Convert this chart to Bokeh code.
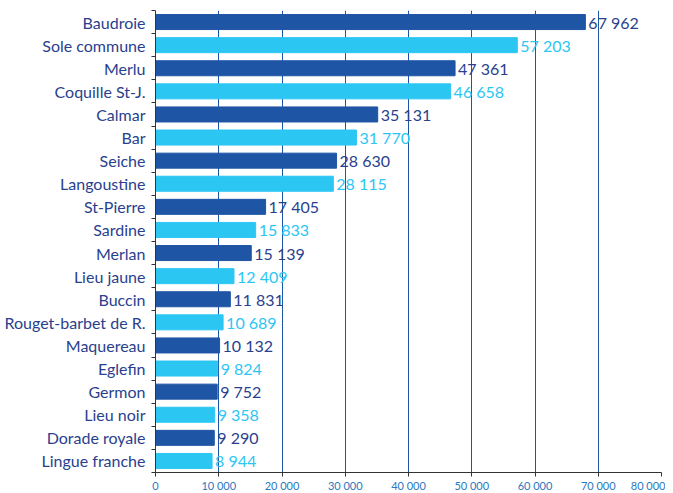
from bokeh.plotting import figure
from bokeh.models import Range1d, FixedTicker, ColumnDataSource
from bokeh.embed import file_html
from bokeh.resources import INLINE
from bokeh.core.properties import value

species = ["Baudroie", "Sole commune", "Merlu", "Coquille St-J.", "Calmar", "Bar",
           "Seiche", "Langoustine", "St-Pierre", "Sardine", "Merlan", "Lieu jaune",
           "Buccin", "Rouget-barbet de R.", "Maquereau", "Eglefin", "Germon",
           "Lieu noir", "Dorade royale", "Lingue franche"]
tonnes = [67962, 57203, 47361, 46658, 35131, 31770, 28630, 28115, 17405, 15833,
          15139, 12409, 11831, 10689, 10132, 9824, 9752, 9358, 9290, 8944]
x_ticks = [0, 10000, 20000, 30000, 40000, 50000, 60000, 70000, 80000]
x_tick_labels = ["0", "10 000", "20 000", "30 000", "40 000", "50 000", "60 000", "70 000", "80 000"]

DARK = "#1f55a5"
LIGHT = "#2cc6f3"
NAVY = "#2a3f8e"
FONT = "Lato"

n = len(species)
ys = list(range(n))
bar_colors = [DARK if i % 2 == 0 else LIGHT for i in ys]
txt_colors = [NAVY if i % 2 == 0 else LIGHT for i in ys]
labels = ["{:,}".format(v).replace(",", " ") for v in tonnes]

src = ColumnDataSource(dict(y=ys, v=tonnes, c=bar_colors, tc=txt_colors, lab=labels))

p = figure(output_backend="svg", toolbar_location=None,
           frame_width=506, frame_height=462,
           x_range=Range1d(0, 80000), y_range=Range1d(n - 0.5, -0.5),
           min_border_left=155, min_border_top=10, min_border_right=4, min_border_bottom=2)
p.outline_line_color = None
p.background_fill_color = "white"
p.border_fill_color = "white"

p.hbar(y="y", right="v", left=0, height=0.65, color="c", source=src)
p.text(x="v", y="y", text="lab", text_color="tc", x_offset=3,
       text_baseline="middle", text_align="left",
       text_font=value(FONT), text_font_size="16px", source=src)

# y axis
p.yaxis.ticker = FixedTicker(ticks=ys, minor_ticks=[i - 0.5 for i in range(n + 1)])
p.yaxis.major_label_overrides = {i: s for i, s in zip(ys, species)}
p.yaxis.major_tick_out = 0
p.yaxis.major_tick_in = 0
p.yaxis.minor_tick_out = 4
p.yaxis.minor_tick_in = 0
p.yaxis.minor_tick_line_color = "#333333"
p.yaxis.axis_line_color = "#333333"
p.yaxis.major_label_standoff = 6
p.yaxis.major_label_text_font = FONT
p.yaxis.major_label_text_font_size = "16px"
p.yaxis.major_label_text_color = NAVY

# x axis
p.xaxis.ticker = FixedTicker(ticks=x_ticks)
p.xaxis.major_label_overrides = {t: s for t, s in zip(x_ticks, x_tick_labels)}
p.xaxis.major_tick_out = 4
p.xaxis.major_tick_in = 0
p.xaxis.minor_tick_line_color = None
p.xaxis.axis_line_color = "#333333"
p.xaxis.major_tick_line_color = "#333333"
p.xaxis.major_label_standoff = 2
p.xaxis.major_label_text_font = FONT
p.xaxis.major_label_text_font_size = "11px"
p.xaxis.major_label_text_color = "#2a78c0"

p.xgrid.ticker = FixedTicker(ticks=x_ticks[1:])
p.xgrid.grid_line_color = DARK
p.xgrid.grid_line_width = 1
p.ygrid.grid_line_color = None

open("out.html", "w").write(file_html(p, INLINE))
